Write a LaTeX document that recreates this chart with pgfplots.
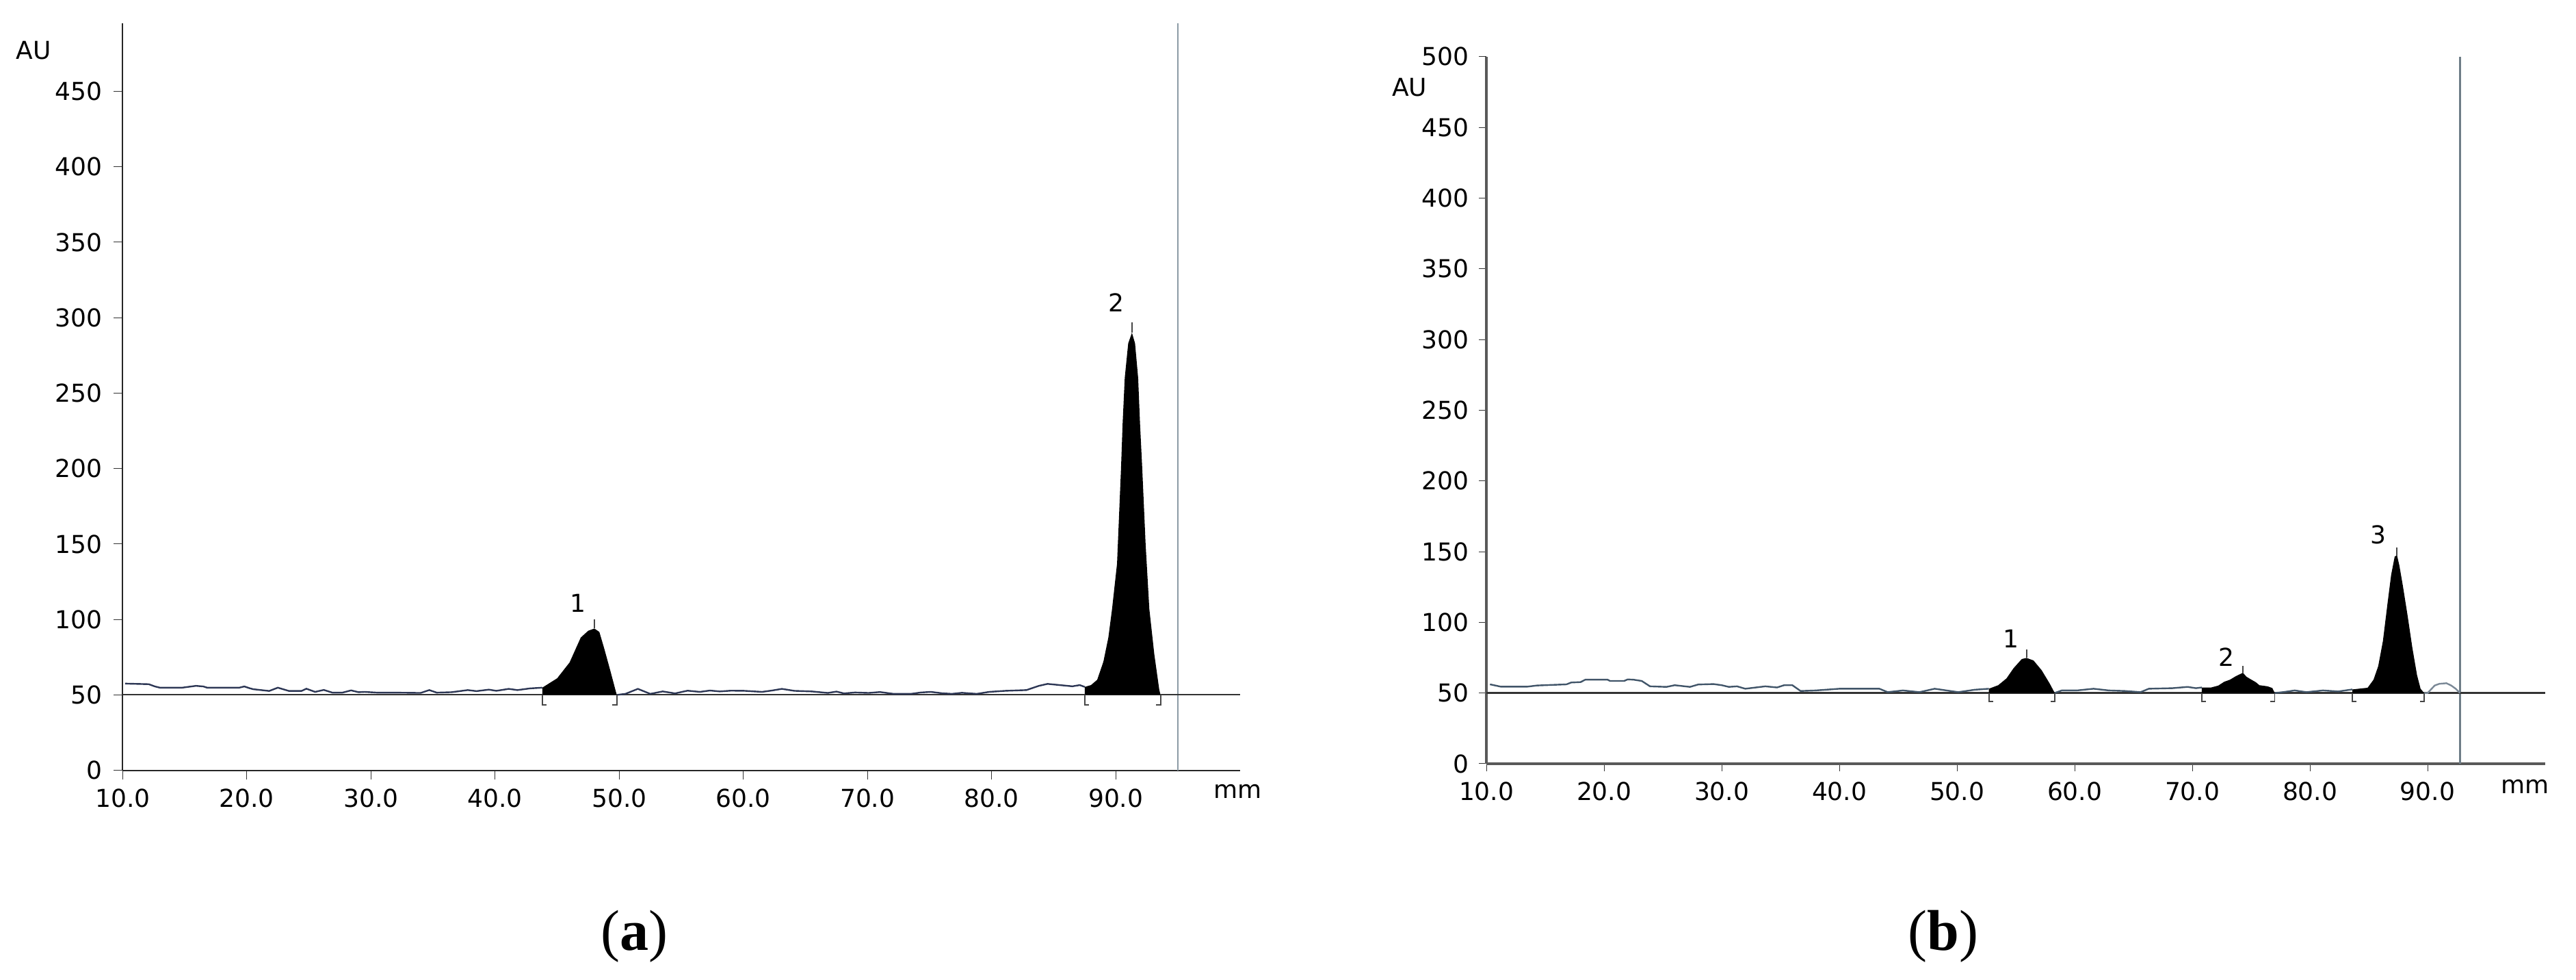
\documentclass[border=0pt]{standalone}
\usepackage{fontspec}
\setmainfont{DejaVu Sans}
\newfontfamily\capfont{Liberation Serif}
\usepackage{pgfplots}
\pgfplotsset{compat=1.18}

\definecolor{traceA}{RGB}{45,55,85}
\definecolor{traceB}{RGB}{65,85,105}
\definecolor{vlineA}{RGB}{140,155,165}
\definecolor{vlineB}{RGB}{110,125,135}
\definecolor{brkcol}{RGB}{70,70,70}

\pgfplotsset{
  chrom/.style={
    scale only axis, anchor=south west, clip=false,
    axis lines*=left, xmin=10, xmax=100, ymin=0,
    xtick={10,20,...,90}, tick align=outside,
    tick label style={font=\fontsize{7.5}{8.5}\selectfont},
    xticklabel style={/pgf/number format/fixed,
      /pgf/number format/fixed zerofill, /pgf/number format/precision=1},
    /pgf/number format/assume math mode=true,
    tick style={black!80},
  },
  peak/.style={fill=black, draw=none},
  brk/.style={brkcol, line width=0.4pt},
}

\begin{document}
\begin{tikzpicture}
\path (0pt,0pt) rectangle (784pt,-298pt);

% ---------- (a) ----------
\begin{axis}[chrom,
  at={(37.33pt,-234.33pt)}, width=340.05pt, height=227.2pt,
  ymax=495, ytick={0,50,...,450},
  axis line style={black!85, line width=0.45pt},
  major tick length=2.7pt,
  yticklabel style={xshift=0pt},
  xticklabel style={yshift=0.5pt},
]
\addplot[vlineA, line width=0.6pt] coordinates {(95.0,0) (95.0,495)};
\addplot[black!80, line width=0.45pt] coordinates {(10,50) (100,50)};

\addplot[peak] coordinates {(43.8,50) (43.8,54.8) (45.0,61) (46.0,71.5) (46.9,88)
  (47.5,92.5) (48.0,94) (48.4,91.7) (48.8,80.5) (49.3,65.5) (49.8,50)};
\addplot[peak] coordinates {(87.5,50) (87.5,55.3) (88.0,56.5) (88.5,60) (89.0,72)
  (89.4,88) (89.7,107) (90.1,137) (90.42,200) (90.55,230) (90.72,260) (91.0,283)
  (91.3,290) (91.55,283) (91.8,260) (91.95,230) (92.13,200) (92.4,150) (92.7,107)
  (93.1,77) (93.5,53.5) (93.6,50)};

\addplot[traceA, line width=0.5pt] coordinates {
  (10.2,57.5) (12.1,57.1) (12.6,55.6) (13.0,54.8) (14.8,54.8) (15.9,56.0) (16.5,55.6)
  (16.8,54.8) (19.4,54.8) (19.8,55.6) (20.2,54.5) (20.5,53.8) (21.8,52.6) (22.5,54.8)
  (23.4,52.6) (24.4,52.6) (24.8,54.1) (25.5,52.0) (26.2,53.3) (26.9,51.5) (27.7,51.5)
  (28.4,53.0) (29.0,51.8) (29.5,52.0) (30.5,51.5) (32.0,51.5) (34.0,51.3) (34.7,53.2)
  (35.3,51.5) (36.5,51.8) (37.8,53.2) (38.5,52.5) (39.5,53.5) (40.1,52.7) (41.1,54.0)
  (41.8,53.2) (42.8,54.3) (43.8,54.8)};
\addplot[traceA, line width=0.5pt] coordinates {
  (49.8,50) (50.5,50.7) (51.5,54) (52.5,50.7) (53.5,52.3) (54.5,51) (55.5,52.8)
  (56.5,52) (57.3,52.9) (58.1,52.3) (59.0,52.8) (60.1,52.7) (61.5,52) (62.3,52.9)
  (63.1,54) (64.1,52.7) (65.5,52.3) (66.8,51.3) (67.5,52.2) (68.1,51) (69.0,51.6)
  (70.1,51.3) (71.0,51.9) (72.1,50.7) (73.5,50.7) (74.3,51.6) (75.1,52) (76.0,51.1)
  (76.8,50.7) (77.6,51.4) (78.8,50.7) (79.8,52) (81.1,52.7) (82.8,53.2) (83.8,56)
  (84.5,57.3) (85.5,56.5) (86.5,55.7) (87.1,56.5) (87.5,55.3)};

\addplot[brk] coordinates {(44.15,43.5) (43.8,43.5) (43.8,50)};
\addplot[brk] coordinates {(49.45,43.5) (49.8,43.5) (49.8,50)};
\addplot[brk] coordinates {(87.85,43.5) (87.5,43.5) (87.5,50)};
\addplot[brk] coordinates {(93.25,43.5) (93.6,43.5) (93.6,50)};
\addplot[brk] coordinates {(48.0,94) (48.0,100)};
\addplot[brk] coordinates {(91.3,290) (91.3,297)};

\node[font=\fontsize{7.5}{8.5}\selectfont] at (axis cs:46.7,111) {1};
\node[font=\fontsize{7.5}{8.5}\selectfont] at (axis cs:90.06,310) {2};
\node[font=\fontsize{7.5}{8.5}\selectfont, inner sep=0pt, anchor=east, xshift=-21.6pt] at (axis cs:10,477) {AU};
\node[font=\fontsize{7.5}{8.5}\selectfont] at (axis cs:99.8,-14) {mm};
\end{axis}

% ---------- (b) ----------
\begin{axis}[chrom,
  at={(452.4pt,-232.3pt)}, width=322.25pt, height=215.05pt,
  ymax=500, ytick={0,50,...,500},
  axis line style={black!65, line width=0.75pt},
  major tick length=2.3pt,
  yticklabel style={xshift=0.5pt},
  xticklabel style={yshift=0.3pt},
]
\addplot[vlineB, line width=0.55pt] coordinates {(92.75,0) (92.75,500)};
\addplot[black!80, line width=0.5pt] coordinates {(10,50) (100,50)};

\addplot[peak] coordinates {(52.7,50) (52.7,53) (53.5,55.5) (54.2,60.3) (54.8,67.5)
  (55.5,74) (55.9,74.8) (56.5,73) (57.2,66) (57.9,56.3) (58.3,50)};
\addplot[peak] coordinates {(70.8,50) (70.8,53.9) (71.6,53.9) (72.2,55.2) (72.7,57.9)
  (73.2,59.4) (73.7,61.9) (74.3,64.3) (74.6,61.5) (75.0,59.5) (75.4,57.6) (75.7,55.5)
  (76.4,54.7) (76.8,53.5) (77.0,50)};
\addplot[peak] coordinates {(83.6,50) (83.6,52.5) (84.9,53.7) (85.4,59.4) (85.8,69)
  (86.2,86.8) (86.6,114) (86.9,133.6) (87.2,146.5) (87.4,147.3) (87.6,140) (87.9,125.5)
  (88.3,104.5) (88.7,82) (89.1,62.6) (89.4,53) (89.7,50)};

\addplot[traceB, line width=0.5pt] coordinates {
  (10.3,56.1) (11.2,54.5) (13.5,54.5) (14.3,55.3) (16.8,56.1) (17.2,57.4) (18.0,57.7)
  (18.4,59.4) (20.3,59.4) (20.5,58.5) (21.7,58.5) (22.0,59.6) (22.5,59.4) (23.2,58.5)
  (23.9,54.7) (25.3,54.3) (26.0,55.5) (27.3,54.3) (28.0,56) (29.3,56.3) (30.0,55.5)
  (30.6,54.3) (31.3,54.7) (32.0,53) (33.7,54.7) (34.7,53.9) (35.3,55.5) (36.0,55.5)
  (36.7,51.4) (38.0,51.8) (40.0,53) (43.4,53) (44.1,50.6) (45.4,51.8) (46.8,50.6)
  (48.1,53) (49.1,51.8) (50.1,50.6) (51.5,52.3) (52.7,53)};
\addplot[traceB, line width=0.5pt] coordinates {
  (58.3,50) (58.9,51.8) (60.2,51.8) (61.6,53) (62.9,51.8) (64.3,51.4) (65.6,50.6)
  (66.3,53) (68.3,53.4) (69.6,54.3) (70.3,53.4) (70.8,53.9)};
\addplot[traceB, line width=0.5pt] coordinates {
  (77.0,50) (77.7,50.6) (78.7,51.8) (79.7,50.6) (81.1,51.8) (82.4,51.1) (83.6,52.5)};
\addplot[traceB!70, line width=0.5pt] coordinates {
  (89.7,50) (90.0,50) (90.6,55.3) (91.0,56.5) (91.6,56.9) (92.0,55.3) (92.4,52.9) (92.75,50)};

\addplot[brk] coordinates {(53.05,43.8) (52.7,43.8) (52.7,50)};
\addplot[brk] coordinates {(57.95,43.8) (58.3,43.8) (58.3,50)};
\addplot[brk] coordinates {(71.15,43.8) (70.8,43.8) (70.8,50)};
\addplot[brk] coordinates {(76.65,43.8) (77.0,43.8) (77.0,50)};
\addplot[brk] coordinates {(83.95,43.8) (83.6,43.8) (83.6,50)};
\addplot[brk] coordinates {(89.35,43.8) (89.7,43.8) (89.7,50)};
\addplot[brk] coordinates {(55.9,74.8) (55.9,80.7)};
\addplot[brk] coordinates {(74.3,64.3) (74.3,69)};
\addplot[brk] coordinates {(87.4,147.3) (87.4,153)};

\node[font=\fontsize{7.5}{8.5}\selectfont] at (axis cs:54.6,88.4) {1};
\node[font=\fontsize{7.5}{8.5}\selectfont] at (axis cs:72.9,75.6) {2};
\node[font=\fontsize{7.5}{8.5}\selectfont] at (axis cs:85.8,161.8) {3};
\node[font=\fontsize{7.5}{8.5}\selectfont, inner sep=0pt, anchor=east, xshift=-17.9pt] at (axis cs:10,478.5) {AU};
\node[font=\fontsize{7.5}{8.5}\selectfont] at (axis cs:98.3,-16) {mm};
\end{axis}

\node[font=\capfont\fontsize{17.5}{20}\selectfont] at (193pt,-284.8pt) {(\textbf{a})};
\node[font=\capfont\fontsize{17.5}{20}\selectfont] at (591.5pt,-284.8pt) {(\textbf{b})};
\end{tikzpicture}
\end{document}
